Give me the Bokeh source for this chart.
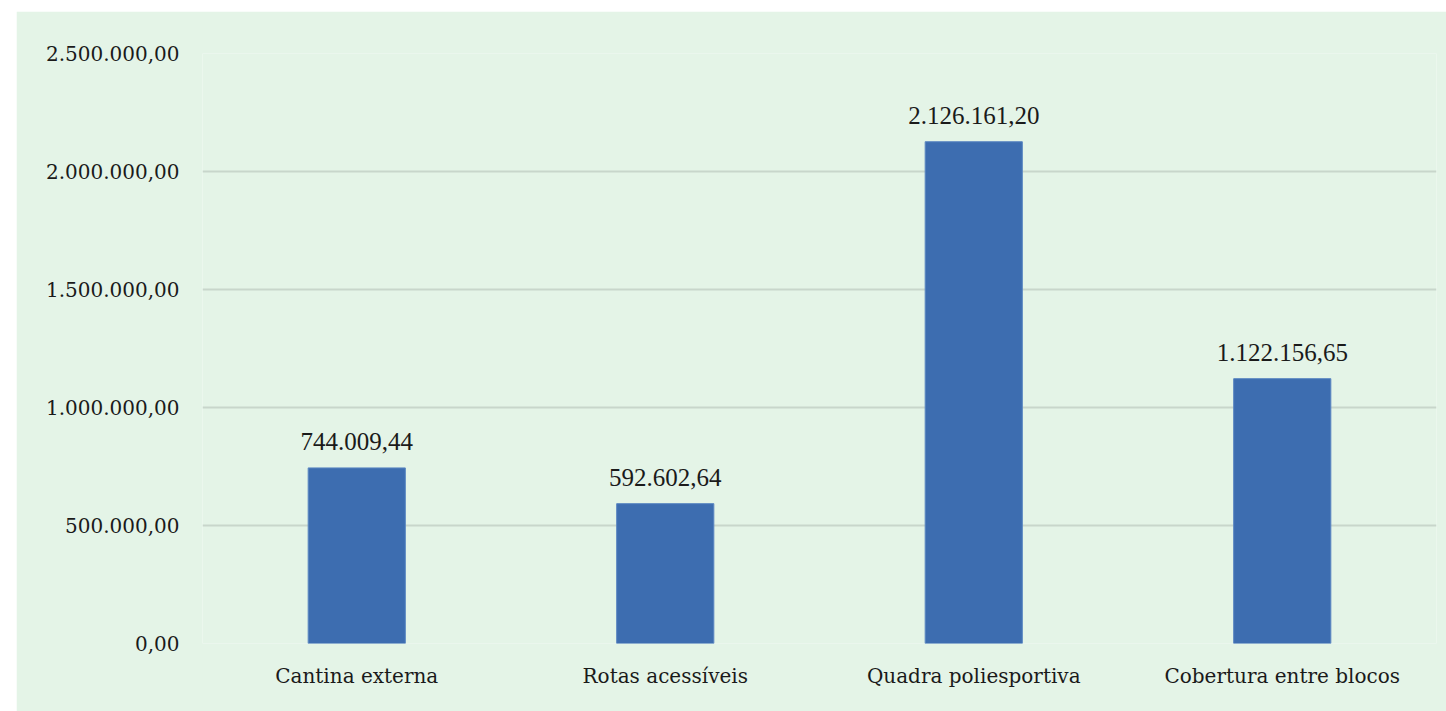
from bokeh.plotting import figure
from bokeh.models import ColumnDataSource, FixedTicker, Range1d, LabelSet
from bokeh.embed import file_html
from bokeh.resources import INLINE

categories = ["Cantina externa", "Rotas acessíveis", "Quadra poliesportiva", "Cobertura entre blocos"]
values = [744009.44, 592602.64, 2126161.20, 1122156.65]
y_ticks = [0, 500000, 1000000, 1500000, 2000000, 2500000]


def br(v):
    s = f"{v:,.2f}"
    return s.replace(",", "X").replace(".", ",").replace("X", ".")


FONT = "DejaVu Serif"
BG = "#e4f4e7"

src = ColumnDataSource(dict(cat=categories, val=values, lab=[br(v) for v in values]))

p = figure(x_range=categories, y_range=Range1d(0, 2500000),
           width=1430, height=700, output_backend="svg", toolbar_location=None,
           background_fill_color=BG, border_fill_color=BG,
           min_border_left=186, min_border_right=10, min_border_top=42, min_border_bottom=68)
p.margin = (11, 0, 0, 16)
p.outline_line_color = None

p.vbar(x="cat", top="val", width=0.315, source=src,
       fill_color="#3d6db0", line_color="#5b87c2", line_width=1)

labels = LabelSet(x="cat", y="val", text="lab", source=src, text_align="center",
                  text_baseline="bottom", y_offset=18, text_font=FONT,
                  text_font_size="25px", text_color="#1a1a1a")
p.add_layout(labels)

p.yaxis.ticker = FixedTicker(ticks=y_ticks)
p.yaxis.major_label_overrides = {t: br(t) for t in y_ticks}
p.yaxis.axis_line_color = None
p.yaxis.major_tick_line_color = None
p.yaxis.minor_tick_line_color = None
p.yaxis.major_label_standoff = 17
p.yaxis.major_label_text_font = FONT
p.yaxis.major_label_text_font_size = "20px"
p.yaxis.major_label_text_color = "#1a1a1a"

p.xaxis.axis_line_color = None
p.xaxis.major_tick_line_color = None
p.xaxis.minor_tick_line_color = None
p.xaxis.major_label_standoff = 14
p.xaxis.major_label_text_font = FONT
p.xaxis.major_label_text_font_size = "20px"
p.xaxis.major_label_text_color = "#1a1a1a"

p.xgrid.grid_line_color = None
p.ygrid.grid_line_color = "#c8d6cb"
p.ygrid.grid_line_width = 2

open("out.html", "w").write(file_html(p, INLINE))
